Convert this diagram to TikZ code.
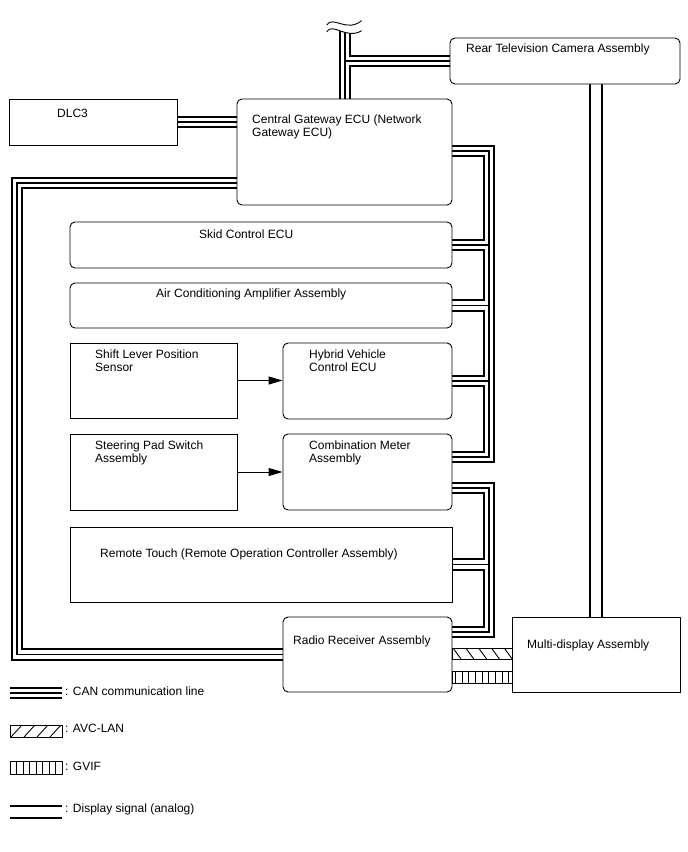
\documentclass[tikz,border=0pt]{standalone}
\usepackage{fontspec}
\setmainfont{Liberation Sans}
\usetikzlibrary{positioning, calc, arrows.meta}
\pgfdeclarelayer{bg}
\pgfsetlayers{bg,main}
\tikzset{
  unit/.style={draw=black, line width=0.9pt, fill=white, inner sep=0pt},
  ecu/.style={unit, rounded corners=5pt},
  lbl/.style={anchor=north west, inner sep=0pt, align=left},
  arr/.style={line width=0.9pt, -{Triangle[length=14pt, width=8pt]}},
  disp/.style={line width=1.2pt, double, double distance=10.8pt},
  band/.style={line width=0.9pt},
}

\begin{document}
\begin{tikzpicture}[x=1pt, y=-1pt, font=\fontsize{12}{13.5}\selectfont]
\useasboundingbox (0,0) rectangle (688,852);

% Units
\node[ecu, minimum width=230, minimum height=46] (cam) at (565,61) {};
\node[unit, minimum width=168, minimum height=46] (dlc) at (93,122) {};
\node[ecu, minimum width=215, minimum height=106] (gw) at (344.5,152) {};
\node[ecu, minimum width=382, minimum height=46] (skid) at (261,245) {};
\node[ecu, minimum width=382, minimum height=45] (ac) at (261,305.5) {};
\node[unit, minimum width=167, minimum height=75] (shift) at (153.5,380.5) {};
\node[ecu, minimum width=169, minimum height=76] (hv) at (367.5,381) {};
\node[unit, minimum width=167, minimum height=76] (steer) at (153.5,472) {};
\node[ecu, minimum width=169, minimum height=76] (meter) at (367.5,472) {};
\node[unit, minimum width=382, minimum height=75] (rt) at (261,564.5) {};
\node[ecu, minimum width=169, minimum height=75] (radio) at (367.5,654.5) {};
\node[unit, minimum width=168, minimum height=75] (md) at (596,654.5) {};

% Labels
\node[lbl] (cam-txt) at (466,43.5) {Rear Television Camera Assembly};
\node[lbl] (dlc-txt) at (57,108.5) {DLC3};
\node[lbl] (gw-txt) at (252,114.5) {Central Gateway ECU (Network\\Gateway ECU)};
\node[lbl] (skid-txt) at (199,229.5) {Skid Control ECU};
\node[lbl] (ac-txt) at (156,288.5) {Air Conditioning Amplifier Assembly};
\node[lbl] (shift-txt) at (95,349.5) {Shift Lever Position\\Sensor};
\node[lbl] (hv-txt) at (309,349.5) {Hybrid Vehicle\\Control ECU};
\node[lbl] (steer-txt) at (95,440.5) {Steering Pad Switch\\Assembly};
\node[lbl] (meter-txt) at (309,440.5) {Combination Meter\\Assembly};
\node[lbl] (rt-txt) at (100,548.5) {Remote Touch (Remote Operation Controller Assembly)};
\node[lbl] (radio-txt) at (293,635.5) {Radio Receiver Assembly};
\node[lbl] (md-txt) at (527,639.5) {Multi-display Assembly};

% Bus corners
\coordinate (brk) at (345,27);
\coordinate (lb) at (17,183);
\coordinate (rbt) at (489,151);
\coordinate (rbb) at (489,457);
\coordinate (lbt) at (489,488);
\coordinate (lbb) at (489,632);
\coordinate (lg-can-a) at (10,693);
\coordinate (lg-can-b) at (62,693);

% CAN communication lines
\begin{pgfonlayer}{bg}
\foreach \w/\c in {12.5pt/black, 8.5pt/white, 1.6pt/black} {
  \draw[line width=\w, draw=\c]
    (brk) -- (brk |- gw.north)
    (brk |- cam.west) -- (cam.west)
    (dlc.east) -- (dlc.east -| gw.west)
    (gw.west |- lb) -- (lb) |- (radio.west)
    (gw.east |- rbt) -- (rbt) -- (rbb) -- (meter.east |- rbb)
    (rbt |- skid.east) -- (skid.east)
    (rbt |- ac.east) -- (ac.east)
    (rbt |- hv.east) -- (hv.east)
    (meter.east |- lbt) -- (lbt) -- (lbb) -- (radio.east |- lbb)
    (lbt |- rt.east) -- (rt.east)
    (lg-can-a) -- (lg-can-b);
}
% Display signal
\draw[disp] (md.north |- cam.south) -- (md.north);
\end{pgfonlayer}

% Break mark
\fill[white] (326,18) -- (326.7,31.7) .. controls (333,22) and (346,40) .. (361.7,30.7) -- (363,18) -- cycle;
\draw[band] (326.7,25) .. controls (333,15) and (346,33) .. (361.7,20.7);
\draw[band] (326.7,31.7) .. controls (333,22) and (346,40) .. (361.7,30.7);

% Arrows
\draw[arr] (shift.east) -- (shift.east -| hv.west);
\draw[arr] (steer.east) -- (steer.east -| meter.west);

% AVC-LAN and GVIF
\coordinate (avc-nw) at (452,648);
\coordinate (avc-se) at (512,659);
\begin{scope}
  \clip (avc-nw) rectangle (avc-se);
  \foreach \i in {0,...,4}
    \draw[band] ($(avc-nw)+(1+12.8*\i,0)$) -- ++(8,11);
\end{scope}
\draw[band] (avc-nw) rectangle (avc-se);
\coordinate (gvif-nw) at (452,671);
\coordinate (gvif-se) at (512,683);
\foreach \i in {0,...,8}
  \draw[band] ($(gvif-nw)+(3.3+6.67*\i,0)$) -- ++(0,12);
\draw[band] (gvif-nw) rectangle (gvif-se);

% Legend
\coordinate (lg-avc-nw) at (10,725);
\coordinate (lg-avc-se) at (62,737);
\begin{scope}
  \clip (lg-avc-nw) rectangle (lg-avc-se);
  \foreach \i in {0,...,3}
    \draw[band] ($(lg-avc-nw)+(1+13*\i,12)$) -- ++(11,-12);
\end{scope}
\draw[band] (lg-avc-nw) rectangle (lg-avc-se);
\coordinate (lg-gvif-nw) at (10,761);
\coordinate (lg-gvif-se) at (62,774);
\foreach \i in {1,...,7}
  \draw[band] ($(lg-gvif-nw)+(6.5*\i,0)$) -- ++(0,13);
\draw[band] (lg-gvif-nw) rectangle (lg-gvif-se);
\coordinate (lg-disp-a) at (10,812);
\coordinate (lg-disp-b) at (62,812);
\draw[disp] (lg-disp-a) -- (lg-disp-b);

\node[lbl] (lg-can-txt) at (65,686.5) {: CAN communication line};
\node[lbl] (lg-avc-txt) at (65,723.5) {: AVC-LAN};
\node[lbl] (lg-gvif-txt) at (65,761.5) {: GVIF};
\node[lbl] (lg-disp-txt) at (65,803.5) {: Display signal (analog)};
\end{tikzpicture}
\end{document}
